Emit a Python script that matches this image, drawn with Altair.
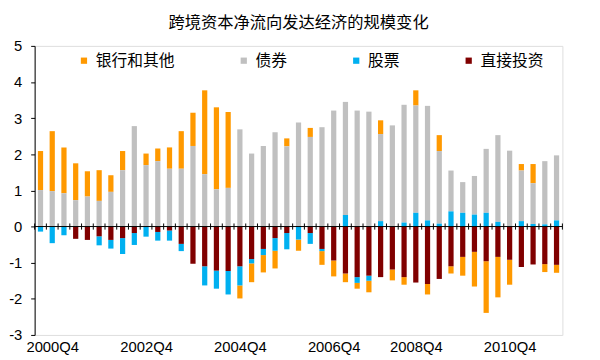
import altair as alt
import pandas as pd

# quarter index 0..44 (first bar precedes 2000Q4)
idx = list(range(45))

bank = [1.08, 1.66, 1.27, 1.02, 0.70, 0.85, 0.46, 0.53, 0.00, 0.32,
        0.35, 0.59, 1.04, 0.92, 2.32, 2.27, 2.10, -0.36, -0.52, -0.48,
        -0.49, 0.22, -0.31, 0.25, -0.38, -0.44, -0.24, -0.16, -0.32, 0.38,
        -0.30, -0.21, 0.42, -0.29, 0.44, -0.20, -0.52, -0.96, -1.43, -1.12,
        -0.69, 0.18, 0.53, -0.22, -0.22]
bond = [1.01, 0.98, 0.92, 0.73, 0.83, 0.71, 0.96, 1.56, 2.78, 1.70,
        1.81, 1.60, 1.60, 2.23, 1.45, 1.03, 1.07, 2.69, 2.02, 2.23,
        2.61, 2.22, 2.88, 2.48, 2.75, 3.21, 3.13, 3.21, 3.18, 2.41,
        2.80, 3.26, 2.97, 3.17, 2.01, 1.13, 0.85, 1.07, 1.77, 2.40,
        2.10, 1.40, 1.13, 1.75, 1.80]
stock = [-0.14, -0.46, -0.24, 0.00, 0.00, -0.25, -0.24, -0.44, -0.33, -0.28,
         -0.24, -0.28, -0.20, 0.00, -0.53, -0.50, -0.65, -0.53, -0.12, -0.17,
         -0.35, -0.45, -0.36, -0.30, -0.06, 0.00, 0.32, -0.16, -0.14, 0.15,
         0.00, 0.11, 0.38, 0.17, 0.08, 0.42, 0.38, 0.33, 0.38, 0.13,
         0.00, 0.15, 0.07, 0.06, 0.17]
fdi = [0.00, 0.00, 0.00, -0.34, -0.37, -0.27, -0.37, -0.32, -0.18, 0.00,
       -0.15, -0.11, -0.48, -1.03, -1.10, -1.22, -1.23, -1.10, -0.90, -0.62,
       -0.32, -0.18, 0.00, -0.18, -0.62, -0.94, -1.30, -1.40, -1.36, -1.40,
       -1.19, -1.40, -1.55, -1.59, -1.45, -1.10, -0.84, -0.70, -0.96, -0.84,
       -0.92, -1.12, -1.05, -1.04, -1.06]

series_names = ["银行和其他", "债券", "股票", "直接投资"]
series_colors = ["#FF9900", "#C0C0C0", "#00B0F0", "#800000"]
stack_order = [3, 2, 1, 0]  # nearest zero first: 直接投资, 股票, 债券, 银行和其他

tick_idx = [1, 9, 17, 25, 32, 40]
tick_text = ["2000Q4", "2002Q4", "2004Q4", "2006Q4", "2008Q4", "2010Q4"]
y_ticks = [-3, -2, -1, 0, 1, 2, 3, 4, 5]

rows = []
for name, vals, o in zip(series_names, [bank, bond, stock, fdi], stack_order):
    for i, v in zip(idx, vals):
        rows.append({"idx": i, "series": name, "value": v, "ord": o})
df = pd.DataFrame(rows)

# category boundaries for the crossing tick marks on the zero line
bounds = pd.DataFrame({"b": [i - 0.5 for i in idx] + [idx[-1] + 0.5]})

label_expr = " : ".join(
    f"datum.value == {i} ? '{t}'" for i, t in zip(tick_idx, tick_text)
) + " : ''"

W, H = 535, 293

xscale = alt.Scale(domain=[idx[0] - 0.5, idx[-1] + 0.5], nice=False, zero=False, padding=0)
yscale = alt.Scale(domain=[y_ticks[0], y_ticks[-1]], nice=False, zero=False)

bars = alt.Chart(df).mark_bar(size=5.3).encode(
    x=alt.X("idx:Q", scale=xscale, title=None,
            axis=alt.Axis(values=tick_idx, tickCount=50, labelExpr=label_expr,
                          labelAngle=0, domain=False, ticks=False, grid=False,
                          labelFont="Liberation Sans", labelFontSize=15,
                          labelColor="black", labelPadding=5, labelFlush=False,
                          labelOverlap=False)),
    y=alt.Y("value:Q", scale=yscale, stack="zero", title=None,
            axis=alt.Axis(values=y_ticks, tickCount=50, labelExpr="'' + datum.value",
                          grid=False, domainColor="black", tickColor="black",
                          tickSize=4, labelPadding=9, labelFont="Liberation Sans",
                          labelFontSize=15, labelColor="black", labelOverlap=False,
                          labelFlush=False)),
    color=alt.Color("series:N",
                    scale=alt.Scale(domain=series_names, range=series_colors),
                    legend=alt.Legend(title=None, orient="none", direction="horizontal",
                                      columns=4, legendX=42, legendY=7,
                                      symbolType="square", symbolSize=40,
                                      symbolStrokeWidth=0, symbolOffset=0,
                                      labelFont="Noto Sans CJK SC", labelFontSize=16,
                                      labelColor="black", labelOffset=4,
                                      columnPadding=61, gridAlign="none")),
    order=alt.Order("ord:Q", sort="ascending"),
)

zero = alt.Chart(pd.DataFrame({"z": [0]})).mark_rule(color="black", strokeWidth=1).encode(
    y=alt.Y("z:Q", scale=yscale)
)

cross_ticks = alt.Chart(bounds).mark_rule(color="black", strokeWidth=1).encode(
    x=alt.X("b:Q", scale=xscale),
    y=alt.datum(-0.085),
    y2=alt.datum(0.085),
)

chart = alt.layer(bars, zero, cross_ticks).properties(
    width=W, height=H,
    title=alt.Title("跨境资本净流向发达经济的规模变化", font="Noto Sans CJK SC",
                    fontSize=16.5, fontWeight="normal", color="black", offset=8),
    autosize=alt.AutoSizeParams(type="none"),
    padding={"left": 27, "top": 36, "right": 30, "bottom": 23},
).configure_view(stroke=None).configure(background="white")

chart.save("out.html", embed_options={"renderer": "svg", "actions": False})
